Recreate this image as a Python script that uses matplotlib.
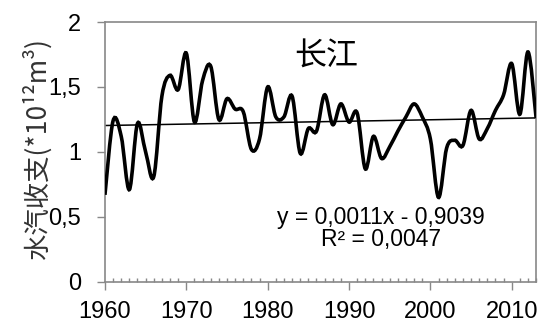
import numpy as np
import matplotlib
matplotlib.use("Agg")
import matplotlib.pyplot as plt
from matplotlib.path import Path
from matplotlib.patches import PathPatch

# 长江流域逐年水汽收支
years = list(range(1960, 2014))
values = [0.67, 1.24, 1.12, 0.71, 1.22, 1.00, 0.81, 1.43, 1.59, 1.48,
          1.76, 1.23, 1.55, 1.66, 1.25, 1.41, 1.33, 1.31, 1.02, 1.10,
          1.50, 1.27, 1.27, 1.43, 0.99, 1.18, 1.16, 1.44, 1.21, 1.37,
          1.23, 1.30, 0.87, 1.12, 0.95, 1.04, 1.16, 1.27, 1.37, 1.27,
          1.10, 0.65, 1.03, 1.09, 1.05, 1.32, 1.10, 1.18, 1.32, 1.44,
          1.68, 1.29, 1.77, 1.26]
yticks = [0, 0.5, 1, 1.5, 2]
ytick_labels = ["0", "0,5", "1", "1,5", "2"]
xticks = [1960, 1970, 1980, 1990, 2000, 2010]
title = "长江"
ylabel = "水汽收支(*10¹²m³)"
eq_text = "y = 0,0011x - 0,9039"
r2_text = "R² = 0,0047"

gray = "#888888"
cjk = ["Noto Sans CJK SC", "DejaVu Sans"]
num = ["Liberation Sans", "DejaVu Sans"]


def smooth_path(x, y):
    # 平滑折线: 每段用三次贝塞尔连接 (Catmull-Rom 控制点)
    p = np.column_stack([x, y]).astype(float)
    n = len(p)
    verts = [p[0]]
    codes = [Path.MOVETO]
    for i in range(n - 1):
        p0 = p[i - 1] if i > 0 else p[i]
        p3 = p[i + 2] if i + 2 < n else p[i + 1]
        c1 = p[i] + (p[i + 1] - p0) / 6
        c2 = p[i + 1] - (p3 - p[i]) / 6
        verts += [c1, c2, p[i + 1]]
        codes += [Path.CURVE4] * 3
    return Path(verts, codes)


fig = plt.figure(figsize=(5.41, 3.24), dpi=100)
ax = fig.add_axes([0.194, 0.13, 0.797, 0.802])

ax.add_patch(PathPatch(smooth_path(years, values), facecolor="none",
                       edgecolor="black", lw=2.6, capstyle="butt", zorder=3))

# 线性趋势
k, b = np.polyfit(years, values, 1)
xs = np.array([years[0], years[-1]])
ax.plot(xs, k * xs + b, color="black", lw=1.1, zorder=2)

ax.set_xlim(1960, 2013)
ax.set_ylim(0, 2)

ax.set_xticks(xticks)
ax.set_xticklabels([str(t) for t in xticks], family=num, fontsize=17)
ax.set_xticks(years, minor=True)
ax.set_yticks(yticks)
ax.set_yticklabels(ytick_labels, family=num, fontsize=17)

ax.tick_params(axis="x", which="major", direction="out", length=6, width=1,
               color=gray, pad=8)
ax.tick_params(axis="x", which="minor", direction="in", length=3, width=1,
               color=gray)
ax.tick_params(axis="y", which="major", direction="out", length=6, width=1,
               color=gray, pad=11)
ax.tick_params(axis="y", which="minor", left=False)

for s in ax.spines.values():
    s.set_color(gray)
    s.set_linewidth(1.2)

ax.text(0.513, 0.865, title, transform=ax.transAxes, ha="center", va="center",
        family=cjk, fontsize=23)
ax.text(0.64, 0.246, eq_text, transform=ax.transAxes, ha="center", va="center",
        family=num, fontsize=16.5)
ax.text(0.64, 0.162, r2_text, transform=ax.transAxes, ha="center", va="center",
        family=num, fontsize=16.5)

fig.text(0.068, 0.54, ylabel, rotation=90, ha="center", va="center",
         family=cjk, fontsize=19, color="#333333")

fig.savefig("out.png", dpi=100)
plt.close(fig)
